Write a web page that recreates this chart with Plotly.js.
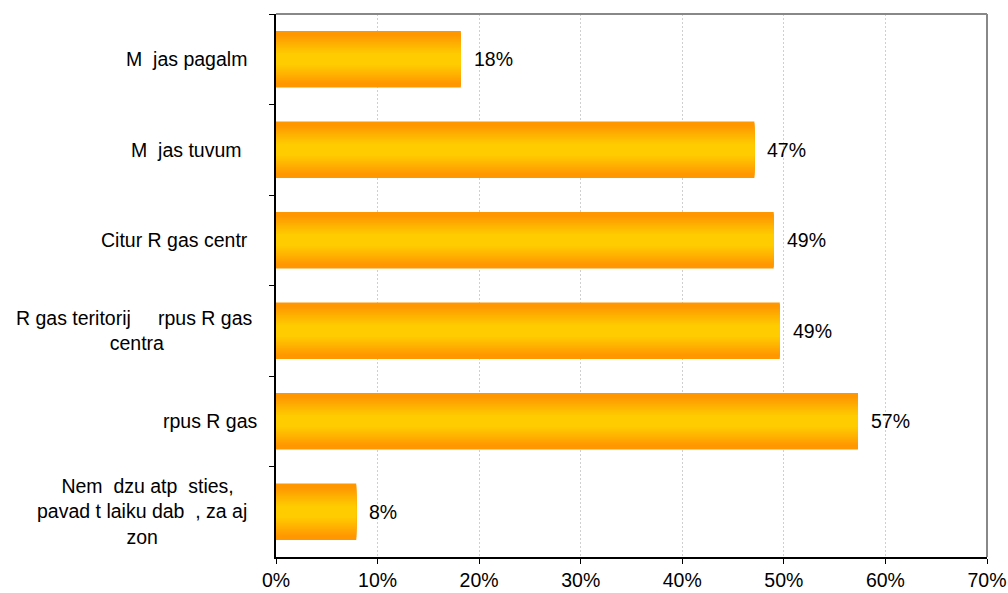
<!DOCTYPE html>
<html>
<head>
<meta charset="utf-8">
<script src="https://cdn.plot.ly/plotly-3.0.1.min.js"></script>
<style>html,body{margin:0;padding:0;background:#fff;}#chart{width:1008px;height:593px;}</style>
</head>
<body>
<div id="chart"></div>
<script>
// ---- data ----
var categories = [
  "M\u00a0\u00a0jas pagalm\u00a0\u00a0",
  "M\u00a0\u00a0jas tuvum\u00a0\u00a0\u00a0",
  "Citur R gas centr\u00a0\u00a0",
  "R gas teritorij\u00a0\u00a0\u00a0\u00a0\u00a0rpus R gas\u00a0<br>centra",
  "rpus R gas",
  "Nem\u00a0\u00a0dzu atp\u00a0\u00a0sties,<br>pavad t laiku dab\u00a0\u00a0, za aj\u00a0\u00a0<br>zon\u00a0\u00a0"
];
var values = [18.2, 47.1, 49.0, 49.6, 57.3, 7.9];
var valueLabels = ["18%", "47%", "49%", "49%", "57%", "8%"];
var xTickValues = [0, 10, 20, 30, 40, 50, 60, 70];
var xTickLabels = ["0%", "10%", "20%", "30%", "40%", "50%", "60%", "70%"];

// ---- styling: vertical orange->yellow->orange gradient made of overlaid bars ----
var FONT = "Liberation Sans, Arial, sans-serif";
var FS = 19.5;
var fullWidth = 0.625;
var nLayers = 18;
function lerp(a, b, t) { return Math.round(a + (b - a) * t); }
function colorAt(d) {
  var t = d < 0.22 ? 0 : Math.min(1, (d - 0.22) / 0.66);
  return "rgb(255," + lerp(204, 152, t) + ",0)";
}
var traces = [];
for (var k = 0; k < nLayers; k++) {
  var f = 1 - k / nLayers;
  traces.push({
    type: "bar",
    orientation: "h",
    x: values,
    y: categories,
    width: fullWidth * f,
    marker: { color: colorAt(f), line: { width: 0 } },
    hoverinfo: "skip",
    showlegend: false
  });
}

var annotations = [];
for (var i = 0; i < categories.length; i++) {
  annotations.push({
    xref: "paper", yref: "y", x: 0, y: categories[i],
    text: categories[i], showarrow: false,
    xanchor: "right", yanchor: "middle", align: "center",
    xshift: -16,
    font: { family: FONT, size: FS, color: "#000" }
  });
  annotations.push({
    xref: "x", yref: "y", x: values[i], y: categories[i],
    text: valueLabels[i], showarrow: false,
    xanchor: "left", yanchor: "middle", xshift: 11,
    font: { family: FONT, size: FS, color: "#000" }
  });
}

var layout = {
  width: 1008, height: 593,
  margin: { l: 276, r: 21, t: 14, b: 36 },
  paper_bgcolor: "#fff", plot_bgcolor: "#fff",
  barmode: "overlay",
  showlegend: false,
  font: { family: FONT, size: FS, color: "#000" },
  xaxis: {
    range: [0, 70],
    tickvals: xTickValues, ticktext: xTickLabels,
    showgrid: true, gridcolor: "#cfcfcf", gridwidth: 1, griddash: "2px,2px",
    zeroline: false,
    showline: true, linecolor: "#000", linewidth: 2,
    ticks: "outside", ticklen: 5, tickcolor: "#000", tickwidth: 1,
    tickfont: { family: FONT, size: FS, color: "#000" },
    fixedrange: true
  },
  yaxis: {
    type: "category",
    categoryorder: "array", categoryarray: categories,
    range: [5.5, -0.5],
    showticklabels: false,
    showgrid: false, zeroline: false,
    showline: true, linecolor: "#000", linewidth: 2,
    ticks: "outside", tickson: "boundaries", ticklen: 5, tickcolor: "#000", tickwidth: 1,
    fixedrange: true
  },
  shapes: [
    { type: "line", xref: "paper", yref: "paper", x0: 0, x1: 1, y0: 1, y1: 1,
      line: { color: "#888888", width: 2 } },
    { type: "line", xref: "paper", yref: "paper", x0: 1, x1: 1, y0: 0, y1: 1,
      line: { color: "#888888", width: 2 } }
  ],
  annotations: annotations
};

Plotly.newPlot("chart", traces, layout, { staticPlot: true, displayModeBar: false });
</script>
</body>
</html>
